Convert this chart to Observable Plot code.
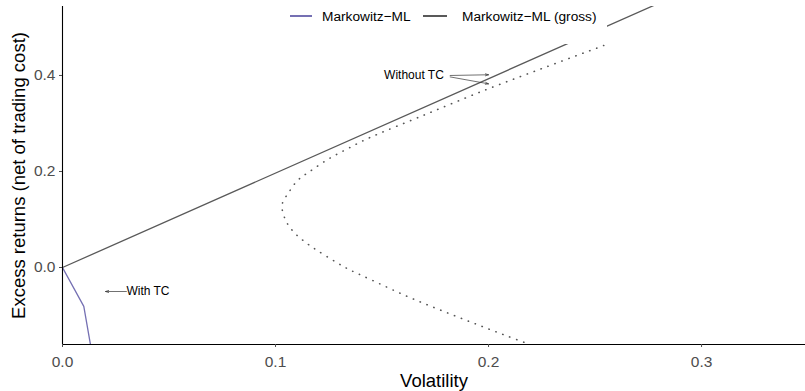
<!DOCTYPE html>
<html><head><meta charset="utf-8">
<script src="https://cdn.jsdelivr.net/npm/d3@7"></script>
<script src="https://cdn.jsdelivr.net/npm/@observablehq/plot@0.6"></script>
<style>
body{margin:0;background:#fff;font-family:"Liberation Sans",Arial,sans-serif}
#wrap{position:relative;width:805px;height:391px;overflow:hidden}
#legend{position:absolute;left:280px;top:0;width:327px;height:44px;background:#fff}
.key{position:absolute;top:15px;height:1.6px}
.lab{position:absolute;top:9px;font-size:13.7px;line-height:16px;color:#000;white-space:nowrap}
</style></head><body>
<div id="wrap"><div id="chart"></div>
<div id="legend">
  <div class="key" style="left:10px;width:22px;background:#7570b3"></div>
  <div class="lab" style="left:42px">Markowitz−ML</div>
  <div class="key" style="left:143px;width:24px;background:#595959"></div>
  <div class="lab" style="left:182px">Markowitz−ML (gross)</div>
</div></div>
<script>
// Markowitz-ML (net of trading cost)
const volNet = [0, 0.0100, 0.0135];
const retNet = [0, -0.081, -0.17];
// Markowitz-ML (gross)
const volGross = [0, 0.30];
const retGross = [0, 0.59];
// Frontier without TC (dotted)
const volFrontier = [0.2541, 0.2260, 0.1986, 0.1700, 0.1435, 0.1341, 0.1249, 0.1161, 0.1105, 0.1063, 0.1031, 0.1045, 0.1081, 0.1133, 0.1189, 0.1279, 0.1340, 0.1402, 0.1499, 0.1595, 0.1690, 0.1787, 0.1886, 0.1983, 0.2081, 0.2178];
const retFrontier = [0.4625, 0.4160, 0.3700, 0.3180, 0.2690, 0.2480, 0.2260, 0.2000, 0.1820, 0.1570, 0.1310, 0.1010, 0.0760, 0.0550, 0.0375, 0.0125, -0.0030, -0.0160, -0.0360, -0.0556, -0.0736, -0.0910, -0.1083, -0.1250, -0.1417, -0.1576];
// ticks
const xTicks = [0, 0.1, 0.2, 0.3];
const yTicks = [0, 0.2, 0.4];
// annotations
const annoText = ["With TC", "Without TC"];
const annoX = [0.0300, 0.1795];
const annoY = [-0.050, 0.400];
const annoAnchor = ["start", "end"];
const arrowX1 = [0.0300, 0.1820, 0.1820];
const arrowY1 = [-0.050, 0.400, 0.397];
const arrowX2 = [0.0202, 0.2000, 0.2000];
const arrowY2 = [-0.050, 0.4015, 0.3826];

const xDomain = [0, 0.3488];
const yDomain = [-0.1604, 0.5437];

const net = volNet.map((v, i) => ({x: v, y: retNet[i]}));
const gross = volGross.map((v, i) => ({x: v, y: retGross[i]}));
const frontier = volFrontier.map((v, i) => ({x: v, y: retFrontier[i]}));
const annos = annoText.map((t, i) => ({t, x: annoX[i], y: annoY[i], a: annoAnchor[i]}));
const arrows = arrowX1.map((v, i) => ({x1: v, y1: arrowY1[i], x2: arrowX2[i], y2: arrowY2[i]}));

const chart = Plot.plot({
  width: 805, height: 391,
  marginLeft: 62, marginRight: 0, marginTop: 6, marginBottom: 47,
  style: {fontFamily: "Liberation Sans, Arial, sans-serif", background: "#fff"},
  x: {domain: xDomain},
  y: {domain: yDomain},
  marks: [
    Plot.line(frontier, {x: "x", y: "y", curve: "catmull-rom", stroke: "#555", strokeWidth: 1.6, strokeDasharray: "0.3 7.1", strokeLinecap: "round", clip: true}),
    Plot.line(gross, {x: "x", y: "y", stroke: "#595959", strokeWidth: 1.3, clip: true}),
    Plot.line(net, {x: "x", y: "y", stroke: "#7570b3", strokeWidth: 1.3, clip: true}),
    Plot.arrow(arrows, {x1: "x1", y1: "y1", x2: "x2", y2: "y2", stroke: "#333", strokeWidth: 0.7, headLength: 7, headAngle: 36}),
    Plot.text(annos.filter(d => d.a === "start"), {x: "x", y: "y", text: "t", textAnchor: "start", fontSize: 12, fill: "#000"}),
    Plot.text(annos.filter(d => d.a === "end"), {x: "x", y: "y", text: "t", textAnchor: "end", fontSize: 12, fill: "#000", dx: -1}),
    Plot.ruleX([xDomain[0]], {stroke: "#000", strokeWidth: 1.1}),
    Plot.ruleY([yDomain[0]], {stroke: "#000", strokeWidth: 1.1}),
    Plot.axisX({ticks: xTicks, tickFormat: d3.format(".1f"), tickSize: 3, tickPadding: 8, fontSize: 15.5, color: "#4d4d4d", label: null}),
    Plot.axisY({ticks: yTicks, tickFormat: d3.format(".1f"), tickSize: 3, tickPadding: 4, fontSize: 15.5, color: "#4d4d4d", label: null}),
    Plot.text(["Volatility"], {frameAnchor: "bottom", dy: 37, fontSize: 18.5, fill: "#000", textAnchor: "middle", lineAnchor: "middle"}),
    Plot.text(["Excess returns (net of trading cost)"], {frameAnchor: "left", dx: -43, rotate: -90, fontSize: 18.5, fill: "#000", textAnchor: "middle", lineAnchor: "middle"})
  ]
});
document.getElementById("chart").appendChild(chart);
</script>
</body></html>
